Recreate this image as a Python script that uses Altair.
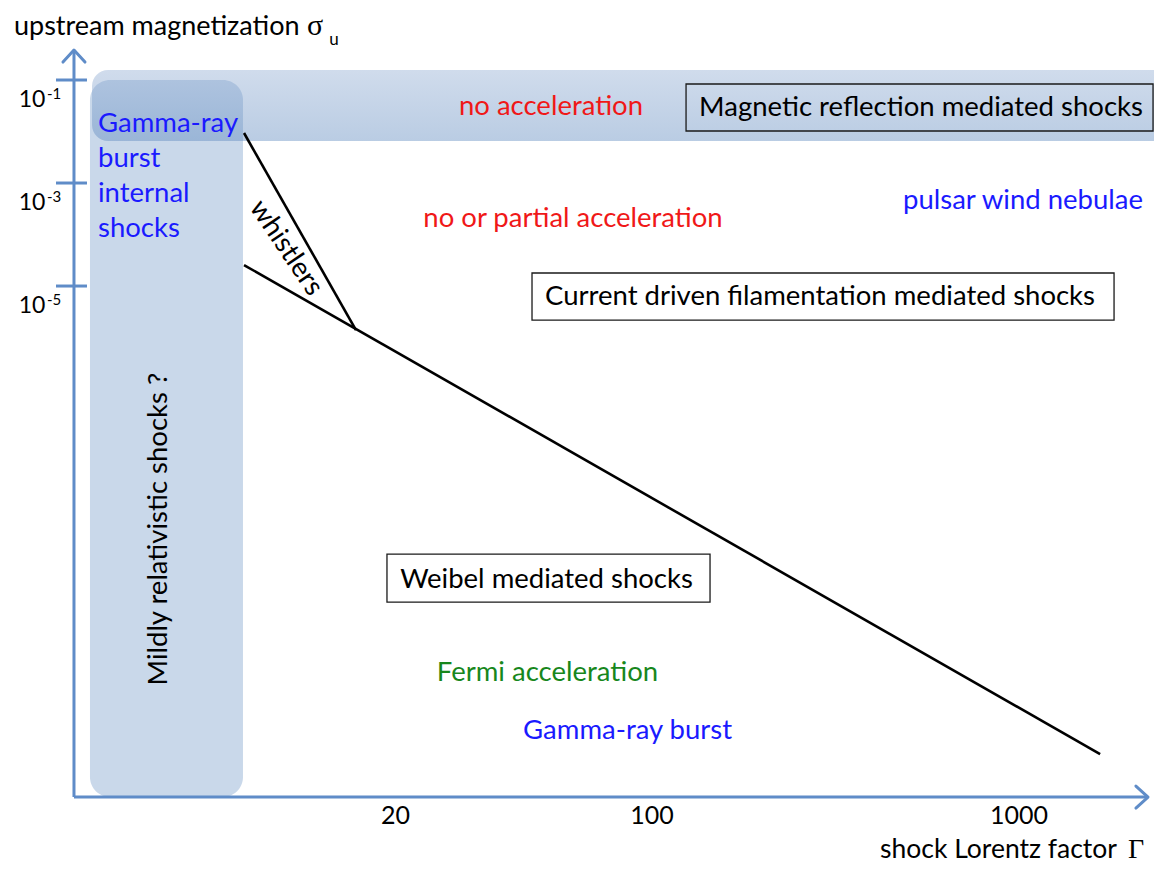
import altair as alt
import pandas as pd

# ---------------- scale domains: shock Lorentz factor Γ (x), upstream magnetization σ_u (y)
X_DOMAIN = [1.759, 2332.0]
Y_DOMAIN = [6.28e-17, 2.50]

# ---------------- axes (drawn as arrows)
axis_origin_x = 2.661
axis_origin_y = 1.197e-15
y_axis_top = 0.3824
x_axis_end = 2246.0
y_tick_values = [1e-1, 1e-3, 1e-5]
y_tick_exponents = ["-1", "-3", "-5"]
y_tick_span = [2.377, 2.887]
y_tick_label_x = 2.045
y_tick_exp_x = 2.247
x_tick_values = [20, 100, 1000]
x_tick_labels = ["20", "100", "1000"]
x_tick_label_y = 5.12e-16

# ---------------- shaded regions
hband_x = [2.980, 2332.0]
hband_y = [0.1563, 6.54e-3]
vband_x = [2.942, 7.683]
vband_y = [0.1, 1.197e-15]

# ---------------- boundary lines
line_names = ["whistler boundary", "filamentation / Weibel boundary"]
line_x = [7.733, 7.733]
line_y = [9.35e-3, 2.556e-5]
line_x2 = [15.61, 1663.0]
line_y2 = [1.398e-6, 8.18e-15]

# ---------------- framed labels
box_labels = ["Magnetic reflection mediated shocks",
              "Current driven filamentation mediated shocks",
              "Weibel mediated shocks"]
box_x = [123.8, 47.1, 18.96]
box_x2 = [2318.0, 1815.0, 143.9]
box_y = [0.08363, 1.789e-5, 6.25e-11]
box_y2 = [0.01022, 2.186e-6, 7.31e-12]
box_fill_opacity = [0.0, 1.0, 1.0]
box_text_x = [540.6, 286.9, 51.58]
box_text_y = [0.0286, 6.11e-6, 1.955e-11]

# ---------------- free labels
label_text = ["no acceleration", "no or partial acceleration", "pulsar wind nebulae",
              "Fermi acceleration", "Gamma-ray burst", "whistlers",
              "Mildly relativistic shocks ?"]
label_x = [53.06, 60.92, 1025.4, 51.90, 85.77, 10.06, 4.535]
label_y = [0.0299, 2.0e-4, 4.47e-4, 3.058e-13, 2.286e-14, 5.466e-5, 1.912e-10]
label_color = ["#f01818", "#f01818", "#1a1aff", "#17871c", "#1a1aff", "#000000", "#000000"]
label_angle = [0, 0, 0, 0, 0, 56, 270]

grb_lines = ["Gamma-ray", "burst", "internal", "shocks"]
grb_x = [3.094, 3.094, 3.094, 3.094]
grb_y = [0.01398, 2.924e-3, 6.11e-4, 1.279e-4]

# ---------------- axis titles
y_title = ["upstream magnetization"]
y_title_pos = [1.826, 0.7475]
y_title_symbol = ["σ"]
y_title_symbol_pos = [11.48, 0.7475]
y_title_sub = ["u"]
y_title_sub_pos = [13.2, 0.4781]
x_title = ["shock Lorentz factor"]
x_title_pos = [418.0, 7.82e-17]
x_title_symbol = ["Γ"]
x_title_symbol_pos = [1981.0, 7.82e-17]

AXIS_COLOR = "#5f8cc8"
SANS = "Lato"
SERIF = "Liberation Serif"
LABEL_SIZE = 27.5

XS = alt.Scale(type="log", domain=X_DOMAIN, nice=False, zero=False)
YS = alt.Scale(type="log", domain=Y_DOMAIN, nice=False, zero=False)


def X(f="x"):
    return alt.X(f"{f}:Q", scale=XS, axis=None)


def Y(f="y"):
    return alt.Y(f"{f}:Q", scale=YS, axis=None)


# ---- bands
hband_df = pd.DataFrame({"x": [hband_x[0]], "x2": [hband_x[1]], "y": [hband_y[0]], "y2": [hband_y[1]]})
vband_df = pd.DataFrame({"x": [vband_x[0]], "x2": [vband_x[1]], "y": [vband_y[0]], "y2": [vband_y[1]]})

vband = alt.Chart(vband_df).mark_rect(
    color="#7ea2cc", opacity=0.42, cornerRadius=20
).encode(x=X(), x2="x2:Q", y=Y(), y2="y2:Q")

hband = alt.Chart(hband_df).mark_rect(
    fill=alt.LinearGradient(
        gradient="linear", x1=0, x2=0, y1=0, y2=1,
        stops=[alt.GradientStop(color="#8fabd2", offset=0),
               alt.GradientStop(color="#5a86bd", offset=1)]),
    opacity=0.42, cornerRadiusTopLeft=16, cornerRadiusBottomLeft=16
).encode(x=X(), x2="x2:Q", y=Y(), y2="y2:Q")

# ---- boxes
box_df = pd.DataFrame({"label": box_labels, "x": box_x, "x2": box_x2, "y": box_y,
                       "y2": box_y2, "fo": box_fill_opacity})
boxes = alt.Chart(box_df).mark_rect(fill="white", stroke="#1a1a1a", strokeWidth=1.3).encode(
    x=X(), x2="x2:Q", y=Y(), y2="y2:Q",
    fillOpacity=alt.FillOpacity("fo:Q", scale=None))

box_text_df = pd.DataFrame({"text": box_labels, "x": box_text_x, "y": box_text_y})
box_text = alt.Chart(box_text_df).mark_text(
    font=SANS, fontSize=LABEL_SIZE, color="black", align="center", baseline="middle"
).encode(x=X(), y=Y(), text="text:N")

# ---- boundary lines
line_df = pd.DataFrame({"name": line_names, "x": line_x, "y": line_y, "x2": line_x2, "y2": line_y2})
lines = alt.Chart(line_df).mark_rule(color="black", strokeWidth=2.6).encode(
    x=X(), y=Y(), x2="x2:Q", y2="y2:Q")

# ---- axes
axes_df = pd.DataFrame({
    "x": [axis_origin_x, axis_origin_x],
    "y": [axis_origin_y, axis_origin_y],
    "x2": [axis_origin_x, x_axis_end],
    "y2": [y_axis_top, axis_origin_y],
})
axes = alt.Chart(axes_df).mark_rule(color=AXIS_COLOR, strokeWidth=3).encode(
    x=X(), y=Y(), x2="x2:Q", y2="y2:Q")

ytick_df = pd.DataFrame({"y": y_tick_values, "x": [y_tick_span[0]] * 3, "x2": [y_tick_span[1]] * 3,
                         "lx": [y_tick_label_x] * 3, "ex": [y_tick_exp_x] * 3,
                         "exp": y_tick_exponents, "base": ["10"] * 3})
yticks = alt.Chart(ytick_df).mark_rule(color=AXIS_COLOR, strokeWidth=3).encode(
    x=X(), x2="x2:Q", y=Y())
ytick_base = alt.Chart(ytick_df).mark_text(
    font=SANS, fontSize=23, color="black", align="center", baseline="middle", dy=20
).encode(x=X("lx"), y=Y(), text="base:N")
ytick_exp = alt.Chart(ytick_df).mark_text(
    font=SANS, fontSize=15, color="black", align="left", baseline="middle", dy=14
).encode(x=X("ex"), y=Y(), text="exp:N")

xtick_df = pd.DataFrame({"x": x_tick_values, "label": x_tick_labels, "y": [x_tick_label_y] * 3})
xtick_text = alt.Chart(xtick_df).mark_text(
    font=SANS, fontSize=25, color="black", align="center", baseline="middle"
).encode(x=X(), y=Y(), text="label:N")

up_df = pd.DataFrame({"x": [axis_origin_x], "y": [y_axis_top]})
right_df = pd.DataFrame({"x": [x_axis_end], "y": [axis_origin_y]})
arrow_up = alt.Chart(up_df).mark_point(
    shape="M-1,1.1L0,0L1,1.1", size=484, filled=False, stroke=AXIS_COLOR,
    strokeWidth=3, opacity=1, strokeCap="round", strokeJoin="round"
).encode(x=X(), y=Y())
arrow_right = alt.Chart(right_df).mark_point(
    shape="M-1.1,-1L0,0L-1.1,1", size=484, filled=False, stroke=AXIS_COLOR,
    strokeWidth=3, opacity=1, strokeCap="round", strokeJoin="round"
).encode(x=X(), y=Y())

# ---- free labels
label_df = pd.DataFrame({"text": label_text, "x": label_x, "y": label_y,
                         "color": label_color, "angle": label_angle})
labels = alt.Chart(label_df).mark_text(
    font=SANS, fontSize=LABEL_SIZE, align="center", baseline="middle"
).encode(x=X(), y=Y(), text="text:N",
         color=alt.Color("color:N", scale=None),
         angle=alt.Angle("angle:Q", scale=None))

grb_df = pd.DataFrame({"text": grb_lines, "x": grb_x, "y": grb_y})
grb = alt.Chart(grb_df).mark_text(
    font=SANS, fontSize=LABEL_SIZE, align="left", baseline="middle", color="#1a1aff"
).encode(x=X(), y=Y(), text="text:N")


# ---- axis titles
def title_layer(text, pos, font, size, align="left"):
    df = pd.DataFrame({"text": text, "x": [pos[0]], "y": [pos[1]]})
    return alt.Chart(df).mark_text(
        font=font, fontSize=size, align=align, baseline="alphabetic", color="black"
    ).encode(x=X(), y=Y(), text="text:N")


titles = [
    title_layer(y_title, y_title_pos, SANS, 27),
    title_layer(y_title_symbol, y_title_symbol_pos, SERIF, 30),
    title_layer(y_title_sub, y_title_sub_pos, SANS, 17),
    title_layer(x_title, x_title_pos, SANS, 26.5),
    title_layer(x_title_symbol, x_title_symbol_pos, SERIF, 28),
]

chart = alt.layer(
    vband, hband, boxes, lines, axes, yticks, arrow_up, arrow_right,
    ytick_base, ytick_exp, xtick_text, box_text, labels, grb, *titles
).properties(
    width=1146, height=855,
    autosize=alt.AutoSizeParams(type="none"),
    padding=0,
    background="white",
).configure_view(stroke=None)

chart.save("out.html", embed_options={"renderer": "svg", "actions": False})
